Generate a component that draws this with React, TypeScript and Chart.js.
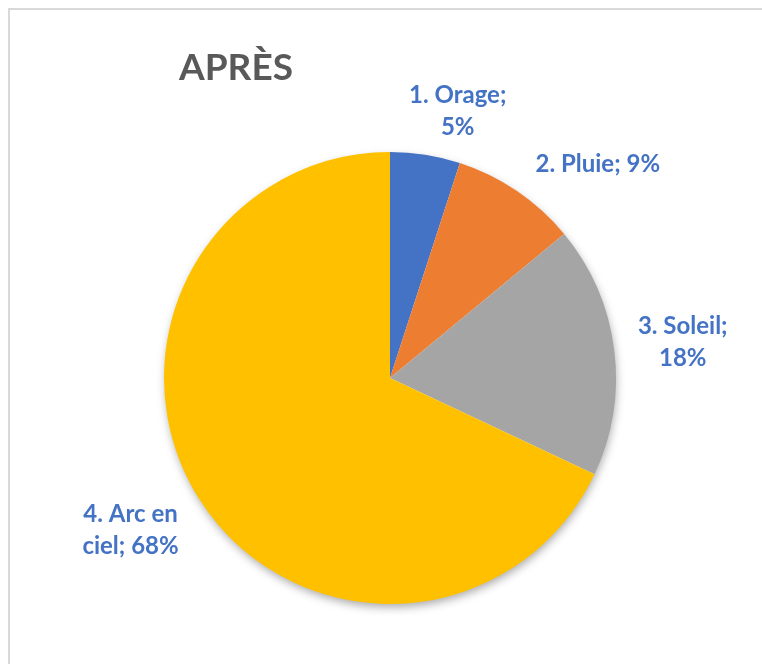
import React, { useEffect, useRef } from "react";
import { Chart, registerables } from "chart.js";

Chart.register(...registerables);

const titleText = "APRÈS";
const categories = ["1. Orage", "2. Pluie", "3. Soleil", "4. Arc en ciel"];
const values = [5, 9, 18, 68];
const colors = ["#4472C4", "#ED7D31", "#A5A5A5", "#FFC000"];
const labelLines = [
  ["1. Orage;", "5%"],
  ["2. Pluie; 9%"],
  ["3. Soleil;", "18%"],
  ["4. Arc en", "ciel; 68%"],
];
const labelNudges = [
  [23, 15],
  [47, 22],
  [9, -1],
  [-18, -2],
];

const shadowPlugin = {
  id: "pieShadow",
  beforeDatasetsDraw(chart: any) {
    const meta = chart.getDatasetMeta(0);
    const arc = meta.data[0];
    if (!arc) return;
    const p = arc.getProps(["x", "y", "outerRadius"], true);
    const ctx = chart.ctx;
    ctx.save();
    ctx.shadowColor = "rgba(0,0,0,0.35)";
    ctx.shadowBlur = 10;
    ctx.shadowOffsetX = 1;
    ctx.shadowOffsetY = 4;
    ctx.fillStyle = "#ffffff";
    ctx.beginPath();
    ctx.arc(p.x, p.y, p.outerRadius - 1, 0, Math.PI * 2);
    ctx.fill();
    ctx.restore();
  },
};

const labelPlugin = {
  id: "outsideLabels",
  afterDatasetsDraw(chart: any) {
    const meta = chart.getDatasetMeta(0);
    const ctx = chart.ctx;
    ctx.save();
    ctx.fillStyle = "#4472C4";
    ctx.font = "bold 24px Lato";
    ctx.textAlign = "center";
    ctx.textBaseline = "alphabetic";
    const lineH = 32;
    meta.data.forEach((arc: any, i: number) => {
      const p = arc.getProps(["x", "y", "startAngle", "endAngle", "outerRadius"], true);
      const mid = (p.startAngle + p.endAngle) / 2;
      const d = p.outerRadius + 60;
      const cx = p.x + Math.cos(mid) * d + labelNudges[i][0];
      const cy = p.y + Math.sin(mid) * d + labelNudges[i][1];
      const lines = labelLines[i];
      const n = lines.length;
      lines.forEach((t, k) => {
        const ly = cy + (k - (n - 1) / 2) * lineH + 8.5;
        ctx.fillText(t, cx, ly);
      });
    });
    ctx.restore();
  },
};

const titlePlugin = {
  id: "leftTitle",
  afterDraw(chart: any) {
    const ctx = chart.ctx;
    ctx.save();
    ctx.fillStyle = "#595959";
    ctx.font = "bold 37px Lato";
    ctx.textAlign = "left";
    ctx.textBaseline = "alphabetic";
    ctx.fillText(titleText, 179, 80);
    ctx.restore();
  },
};

export default function App() {
  const ref = useRef<HTMLCanvasElement | null>(null);
  useEffect(() => {
    if (!ref.current) return;
    const chart = new Chart(ref.current, {
      type: "pie",
      data: {
        labels: categories,
        datasets: [
          {
            data: values,
            backgroundColor: colors,
            borderWidth: 0,
          },
        ],
      },
      options: {
        responsive: false,
        animation: false,
        devicePixelRatio: 1,
        events: [],
        layout: { padding: { left: 164, right: 146, top: 152, bottom: 60 } },
        plugins: {
          legend: { display: false },
          title: { display: false },
          tooltip: { enabled: false },
        },
      },
      plugins: [shadowPlugin, labelPlugin, titlePlugin],
    });
    return () => chart.destroy();
  }, []);

  return (
    <div
      style={{
        position: "fixed",
        left: 0,
        top: 0,
        width: "100vw",
        height: "100vh",
        overflow: "hidden",
        background: "#ffffff",
      }}
    >
      <div
        style={{
          position: "absolute",
          left: 8,
          top: 8,
          width: 1000,
          height: 1000,
          borderTop: "2px solid #d9d9d9",
          borderLeft: "2px solid #d9d9d9",
        }}
      />
      <canvas
        ref={ref}
        width={762}
        height={664}
        style={{ position: "absolute", left: 0, top: 0, width: 762, height: 664, display: "block" }}
      />
    </div>
  );
}
